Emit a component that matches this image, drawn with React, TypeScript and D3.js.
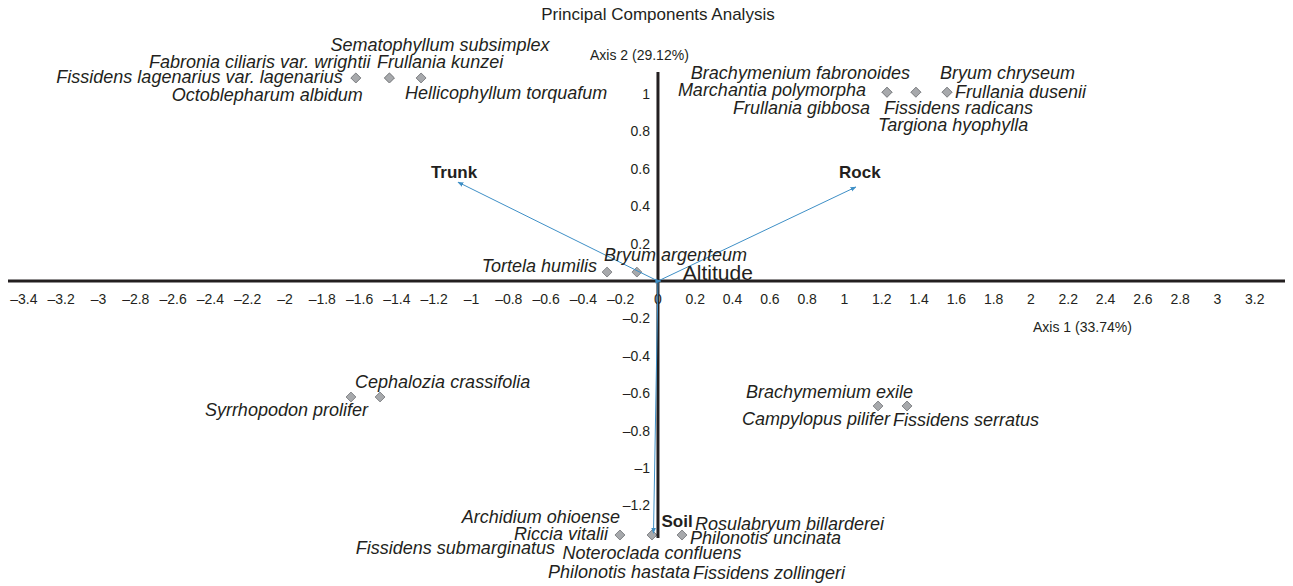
import React from "react";
import * as d3 from "d3";

// ---------- data ----------
const title = "Principal Components Analysis";
const axis1Label = "Axis 1 (33.74%)";
const axis2Label = "Axis 2 (29.12%)";

const xTicks = [-3.4, -3.2, -3, -2.8, -2.6, -2.4, -2.2, -2, -1.8, -1.6, -1.4, -1.2, -1, -0.8, -0.6, -0.4, -0.2, 0,
  0.2, 0.4, 0.6, 0.8, 1, 1.2, 1.4, 1.6, 1.8, 2, 2.2, 2.4, 2.6, 2.8, 3, 3.2];
const yTicks = [1, 0.8, 0.6, 0.4, 0.2, -0.2, -0.4, -0.6, -0.8, -1, -1.2];
const xDomain = [-3.485, 3.362];
const yDomain = [-1.374, 1.118];

const species = [
  "Fissidens lagenarius var. lagenarius",
  "Octoblepharum albidum",
  "Fabronia ciliaris var. wrightii",
  "Sematophyllum subsimplex",
  "Frullania kunzei",
  "Hellicophyllum torquafum",
  "Brachymenium fabronoides",
  "Marchantia polymorpha",
  "Frullania gibbosa",
  "Fissidens radicans",
  "Targiona hyophylla",
  "Bryum chryseum",
  "Frullania dusenii",
  "Tortela humilis",
  "Bryum argenteum",
  "Cephalozia crassifolia",
  "Syrrhopodon prolifer",
  "Brachymemium exile",
  "Campylopus pilifer",
  "Fissidens serratus",
  "Archidium ohioense",
  "Riccia vitalii",
  "Fissidens submarginatus",
  "Noteroclada confluens",
  "Philonotis hastata",
  "Fissidens zollingeri",
  "Rosulabryum billarderei",
  "Philonotis uncinata",
];
const speciesX = [
  -1.62, -1.62, -1.44, -1.44, -1.27, -1.27,
  1.228, 1.228, 1.228, 1.383, 1.383, 1.55, 1.55,
  -0.273, -0.113,
  -1.49, -1.646,
  1.335, 1.18, 1.335,
  -0.204, -0.204, -0.204, -0.032, -0.032, 0.129, 0.129, 0.129,
];
const speciesY = [
  1.086, 1.086, 1.086, 1.086, 1.086, 1.086,
  1.01, 1.01, 1.01, 1.01, 1.01, 1.01, 1.01,
  0.048, 0.048,
  -0.62, -0.62,
  -0.668, -0.668, -0.668,
  -1.358, -1.358, -1.358, -1.358, -1.358, -1.358, -1.358, -1.358,
];
// label placement relative to its point: [dx, dy (to text centre), anchor]
const labelPlacement: [number, number, string][] = [
  [-13, -1, "end"],
  [7, 17, "end"],
  [-19, -16, "end"],
  [-59, -33, "start"],
  [-44, -16, "start"],
  [-16, 15, "start"],
  [23, -19, "end"],
  [-21, -2, "end"],
  [-17, 16, "end"],
  [-32, 16, "start"],
  [-38, 33, "start"],
  [-7, -19, "start"],
  [8, 0, "start"],
  [-10, -6, "end"],
  [-33, -17, "start"],
  [-25, -15, "start"],
  [17, 13, "end"],
  [6, -14, "end"],
  [12, 13, "end"],
  [-14, 14, "start"],
  [0, -18, "end"],
  [-12, -1, "end"],
  [-65, 13, "end"],
  [0, 18, "middle"],
  [38, 37, "end"],
  [11, 38, "start"],
  [13, -11, "start"],
  [8, 3, "start"],
];

const variables = ["Trunk", "Rock", "Soil", "Altitude"];
const varX = [-1.072, 1.061, -0.024, 0.015];
const varY = [0.529, 0.503, -1.348, 0];
const varLabelPlacement: [number, number, string][] = [
  [-4, -10, "middle"],
  [4, -15, "middle"],
  [8, -12, "start"],
  [22, -8, "start"],
];
const varLabelBold = [true, true, true, false];

// ---------- component ----------
const W = 1293;
const H = 586;
const FONT = "'Liberation Sans', Arial, Helvetica, sans-serif";
const INK = "#231f20";
const ARROW = "#3e8fc6";

const fmt = (v: number) => (v < 0 ? "\u2013" : "") + String(+Math.abs(v).toFixed(1));

export default function App() {
  const x = d3.scaleLinear().domain(xDomain).range([8, 1285]);
  const y = d3.scaleLinear().domain(yDomain).range([538, 72]);
  const x0 = x(0);
  const y0 = y(0);
  const diamond = d3.symbol().type(d3.symbolDiamond2).size(62)();

  return (
    <div style={{ position: "absolute", left: 0, top: 0, width: W, height: H, background: "#fff" }}>
      <svg width={W} height={H} style={{ display: "block", fontFamily: FONT }}>
        <defs>
          <marker id="arrowHead" viewBox="0 0 10 10" refX="9" refY="5" markerWidth="6" markerHeight="6" orient="auto">
            <path d="M0,1 L10,5 L0,9 z" fill={ARROW} />
          </marker>
        </defs>
        <rect width={W} height={H} fill="#fff" />
        <text x={x0} y={20} textAnchor="middle" fontSize={17} fill={INK}>{title}</text>
        <text x={x0 - 68} y={60} fontSize={14} fill={INK}>{axis2Label}</text>
        <text x={1033} y={332} fontSize={14} fill={INK}>{axis1Label}</text>

        {xTicks.map((t) => (
          <text key={"xt" + t} x={x(t)} y={y0 + 23} textAnchor="middle" fontSize={14} fill={INK}>{fmt(t)}</text>
        ))}
        {yTicks.map((t) => (
          <text key={"yt" + t} x={x0 - 8} y={y(t) + 5} textAnchor="end" fontSize={14} fill={INK}>{fmt(t)}</text>
        ))}

        {species.map((s, i) => (
          <path key={"pt" + i} d={diamond || ""} transform={`translate(${x(speciesX[i])},${y(speciesY[i])})`}
            fill="#a7a9ac" stroke="#86888b" strokeWidth={1} />
        ))}

        <line x1={x.range()[0]} x2={x.range()[1]} y1={y0} y2={y0} stroke={INK} strokeWidth={3} />
        <line x1={x0} x2={x0} y1={y.range()[1]} y2={y.range()[0]} stroke={INK} strokeWidth={3} />

        {variables.map((v, i) => (
          <line key={"vl" + v} x1={x0} y1={y0} x2={x(varX[i])} y2={y(varY[i])} stroke={ARROW} strokeWidth={1}
            markerEnd="url(#arrowHead)" />
        ))}

        {species.map((s, i) => {
          const [dx, dy, anchor] = labelPlacement[i];
          return (
            <text key={"lb" + i} x={x(speciesX[i]) + dx} y={y(speciesY[i]) + dy + 6.3} textAnchor={anchor as any}
              fontSize={18} fontStyle="italic" fill={INK}>{s}</text>
          );
        })}
        {variables.map((v, i) => {
          const [dx, dy, anchor] = varLabelPlacement[i];
          const fs = varLabelBold[i] ? 17 : 21;
          return (
            <text key={"vt" + v} x={x(varX[i]) + dx} y={y(varY[i]) + dy + fs * 0.35} textAnchor={anchor as any}
              fontSize={fs} fontWeight={varLabelBold[i] ? "bold" : "normal"} fill={INK}>{v}</text>
          );
        })}
      </svg>
    </div>
  );
}
